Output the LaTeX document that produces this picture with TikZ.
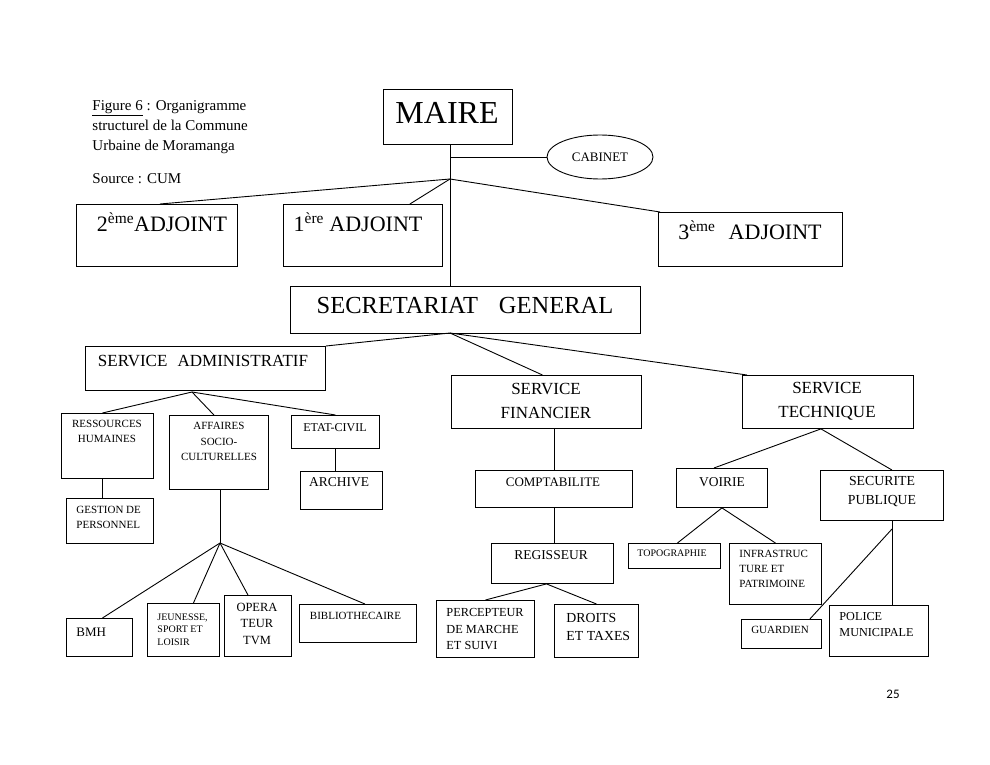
\documentclass[tikz,border=0pt]{standalone}
\usepackage{fontspec}
\setmainfont{Liberation Serif}
\newfontfamily\pagefont{Carlito}
\usetikzlibrary{shapes.geometric}

\begin{document}
\begin{tikzpicture}
  [x=1pt,y=-1pt,line width=0.9pt,
    box/.style={draw,inner sep=0pt,anchor=north west},
    sz/.style 2 args={minimum width=#1,minimum height=#2},
    txt/.style={inner sep=0pt,align=center},
    ltxt/.style={inner sep=0pt,align=left,anchor=west},
    fs/.style 2 args={font=\fontsize{#1}{#2}\selectfont},
  ]
  \useasboundingbox (0,0) rectangle (990,765);

  % title
  \node[ltxt,fs={15}{20}] (title) at (92,127)
    {\underline{Figure 6} : Organigramme\\structurel de la Commune\\Urbaine de Moramanga};
  \node[ltxt,fs={15}{20}] (source) at (92,179) {Source : CUM};

  % boxes
  \node[box,sz={129}{55}] (maire) at (383,89) {};
  \node[draw,ellipse,inner sep=0pt,sz={106}{44},fs={13}{15}] (cabinet) at (600,157) {CABINET};
  \node[box,sz={161}{62}] (adj2) at (76,204) {};
  \node[box,sz={159}{62}] (adj1) at (283,204) {};
  \node[box,sz={184}{54}] (adj3) at (658,212) {};
  \node[box,sz={350}{47}] (sg) at (290,286) {};
  \node[box,sz={240}{44}] (sadm) at (85,346) {};
  \node[box,sz={190}{53}] (sfin) at (451,375) {};
  \node[box,sz={171}{53}] (stech) at (742,375) {};
  \node[box,sz={92}{65}] (rh) at (61,413) {};
  \node[box,sz={99}{74}] (asc) at (169,415) {};
  \node[box,sz={88}{33}] (etat) at (291,415) {};
  \node[box,sz={82}{38}] (arch) at (300,471) {};
  \node[box,sz={87}{45}] (gest) at (66,498) {};
  \node[box,sz={66}{38}] (bmh) at (66,618) {};
  \node[box,sz={72}{53}] (jeun) at (147,603) {};
  \node[box,sz={67}{61}] (opera) at (224,595) {};
  \node[box,sz={117}{38}] (biblio) at (299,604) {};
  \node[box,sz={157}{37}] (compta) at (475,470) {};
  \node[box,sz={122}{40}] (regis) at (491,543) {};
  \node[box,sz={98}{57}] (perc) at (436,600) {};
  \node[box,sz={84}{53}] (droits) at (554,604) {};
  \node[box,sz={91}{39}] (voirie) at (676,468) {};
  \node[box,sz={123}{50}] (secu) at (820,470) {};
  \node[box,sz={92}{25}] (topo) at (628,543) {};
  \node[box,sz={92}{61}] (infra) at (729,543) {};
  \node[box,sz={80}{29}] (guard) at (741,619) {};
  \node[box,sz={99}{51}] (police) at (829,605) {};

  % texts
  \node[txt,fs={32}{38}] (maireT) at (447,113) {MAIRE};
  \node[txt,fs={22}{26}] (adj2T) at (162,222) {2\textsuperscript{ème}ADJOINT};
  \node[txt,fs={22}{26}] (adj1T) at (358,222) {1\textsuperscript{ère} ADJOINT};
  \node[txt,fs={22}{26}] (adj3T) at (750,230) {3\textsuperscript{ème}\hspace{0.6em}ADJOINT};
  \node[txt,fs={24.5}{29}] (sgT) at (465,306) {SECRETARIAT\hspace{0.85em}GENERAL};
  \node[txt,fs={17}{20}] (sadmT) at (203,361) {SERVICE\hspace{0.6em}ADMINISTRATIF};
  \node[txt,fs={17}{24}] (sfinT) at (546,401) {SERVICE\\FINANCIER};
  \node[txt,fs={17}{24}] (stechT) at (827,401) {SERVICE\\TECHNIQUE};
  \node[txt,fs={11}{15}] (rhT) at (107,431.5) {RESSOURCES\\HUMAINES};
  \node[txt,fs={11}{15.5}] (ascT) at (219,441.5) {AFFAIRES\\SOCIO-\\CULTURELLES};
  \node[txt,fs={12}{14}] (etatT) at (335,428) {ETAT-CIVIL};
  \node[txt,fs={13.5}{16}] (archT) at (339,482) {ARCHIVE};
  \node[ltxt,fs={11}{15}] (gestT) at (76,517.5) {GESTION DE\\PERSONNEL};
  \node[ltxt,fs={13}{15}] (bmhT) at (76,632) {BMH};
  \node[ltxt,fs={10}{12.5}] (jeunT) at (157,629.5) {JEUNESSE,\\SPORT ET\\LOISIR};
  \node[txt,fs={12.5}{16.5}] (operaT) at (257,623.5) {OPERA\\TEUR\\TVM};
  \node[txt,fs={11}{13}] (biblioT) at (355.5,616) {BIBLIOTHECAIRE};
  \node[txt,fs={13}{15}] (comptaT) at (553,482) {COMPTABILITE};
  \node[txt,fs={13.5}{16}] (regisT) at (551,555) {REGISSEUR};
  \node[ltxt,fs={12.3}{16.5}] (percT) at (446,629.5) {PERCEPTEUR\\DE MARCHE\\ET SUIVI};
  \node[ltxt,fs={13.8}{18}] (droitsT) at (566,627) {DROITS\\ET TAXES};
  \node[txt,fs={13.5}{16}] (voirieT) at (722,482) {VOIRIE};
  \node[txt,fs={13.8}{19}] (secuT) at (882,492) {SECURITE\\PUBLIQUE};
  \node[txt,fs={10}{12}] (topoT) at (672,553) {TOPOGRAPHIE};
  \node[ltxt,fs={11}{15}] (infraT) at (739,569) {INFRASTRUC\\TURE ET\\PATRIMOINE};
  \node[txt,fs={11}{13}] (guardT) at (780,630) {GUARDIEN};
  \node[ltxt,fs={12.2}{16}] (policeT) at (839,625) {POLICE\\MUNICIPALE};
  \node[txt,font=\pagefont\fontsize{13}{15}\selectfont] (page) at (893,694) {25};

  % junctions
  \coordinate (j1) at (450,179);
  \coordinate (j2) at (450,333);
  \coordinate (j3) at (192,392);
  \coordinate (j4) at (220,543);
  \coordinate (j5) at (892,529);

  % connectors
  \draw (maire.south -| j1) -- (sg.north -| j1);
  \draw (cabinet.west -| j1) -- (cabinet.west);
  \draw (j1) -- ([xshift=3]adj2.north);
  \draw (j1) -- ([xshift=-33]adj1.north east);
  \draw (j1) -- ([xshift=2]adj3.north west);
  \draw (j2) -- (sadm.north east);
  \draw (j2) -- ([xshift=-4]sfin.north);
  \draw (j2) -- ([xshift=5]stech.north west);
  \draw (j3) -- ([xshift=-5]rh.north);
  \draw (j3) -- ([xshift=-5]asc.north);
  \draw (j3) -- (etat.north);
  \draw ([xshift=-5]rh.south) -- ++(0,20);
  \draw (etat.south) -- (arch.north -| etat.south);
  \draw (asc.south -| j4) -- (j4);
  \draw (j4) -- ([xshift=3]bmh.north);
  \draw (j4) -- ([xshift=10]jeun.north);
  \draw (j4) -- ([xshift=-10]opera.north);
  \draw (j4) -- ([xshift=7]biblio.north);
  \draw (compta.north |- sfin.south) -- (compta.north);
  \draw (compta.south) -- (compta.south |- regis.north);
  \draw ([xshift=-6]regis.south) -- (perc.north);
  \draw ([xshift=-6]regis.south) -- (droits.north);
  \draw ([xshift=-7]stech.south) -- ([xshift=-8]voirie.north);
  \draw ([xshift=-7]stech.south) -- ([xshift=10]secu.north);
  \draw (voirie.south) -- ([xshift=3]topo.north);
  \draw (voirie.south) -- (infra.north);
  \draw (secu.south -| j5) -- (police.north -| j5);
  \draw (j5) -- ([xshift=-12]guard.north east);
\end{tikzpicture}
\end{document}
